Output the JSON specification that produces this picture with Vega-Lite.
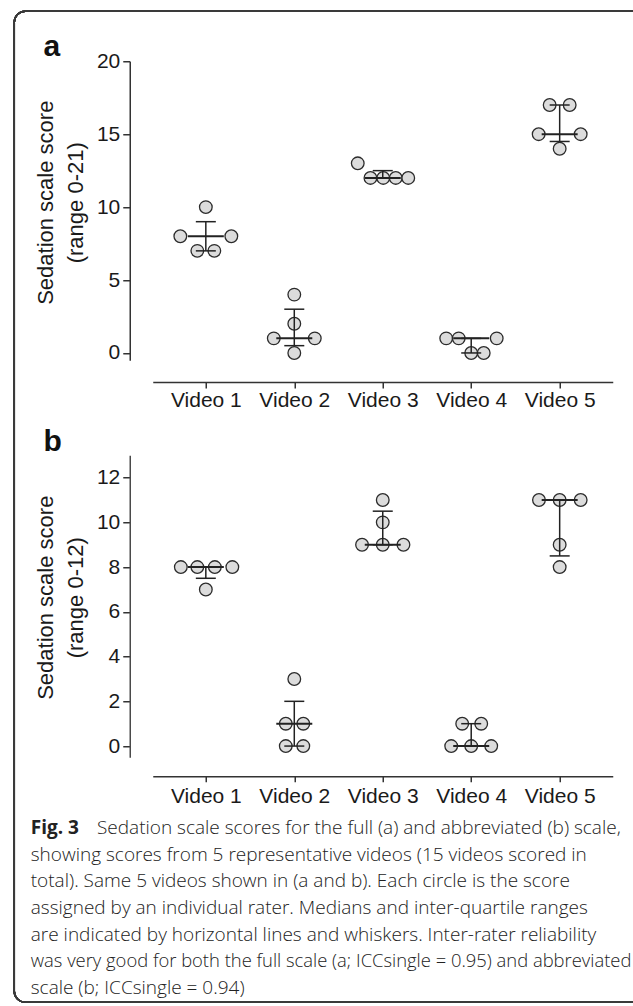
{
  "$schema": "https://vega.github.io/schema/vega-lite/v6.json",
  "padding": {"left": 12.75, "top": 10.25, "right": 0, "bottom": 0},
  "background": "white",
  "config": {
    "view": {"stroke": null},
    "font": "Liberation Sans",
    "axis": {
      "grid": false,
      "domainColor": "#333333",
      "domainWidth": 1.5,
      "tickColor": "#333333",
      "tickWidth": 1.5,
      "labelFont": "Liberation Sans",
      "labelFontSize": 21,
      "labelColor": "#1a1a1a",
      "titleFont": "Liberation Sans",
      "titleFontSize": 22,
      "titleFontWeight": "normal",
      "titleColor": "#1a1a1a"
    }
  },
  "datasets": {
    "a_points": [
      {"video": "Video 1", "score": 10, "spread": 0},
      {"video": "Video 1", "score": 8, "spread": -25.5},
      {"video": "Video 1", "score": 8, "spread": 25.5},
      {"video": "Video 1", "score": 7, "spread": -8.5},
      {"video": "Video 1", "score": 7, "spread": 8.5},
      {"video": "Video 2", "score": 4, "spread": 0},
      {"video": "Video 2", "score": 2, "spread": 0},
      {"video": "Video 2", "score": 1, "spread": -20.5},
      {"video": "Video 2", "score": 1, "spread": 20.5},
      {"video": "Video 2", "score": 0, "spread": 0},
      {"video": "Video 3", "score": 13, "spread": -25},
      {"video": "Video 3", "score": 12, "spread": -12.3},
      {"video": "Video 3", "score": 12, "spread": 0.5},
      {"video": "Video 3", "score": 12, "spread": 13},
      {"video": "Video 3", "score": 12, "spread": 25.5},
      {"video": "Video 4", "score": 1, "spread": -25},
      {"video": "Video 4", "score": 1, "spread": -12.5},
      {"video": "Video 4", "score": 1, "spread": 25.5},
      {"video": "Video 4", "score": 0, "spread": 0},
      {"video": "Video 4", "score": 0, "spread": 12.5},
      {"video": "Video 5", "score": 17, "spread": -10},
      {"video": "Video 5", "score": 17, "spread": 10},
      {"video": "Video 5", "score": 15, "spread": -21},
      {"video": "Video 5", "score": 15, "spread": 21},
      {"video": "Video 5", "score": 14, "spread": 0}
    ],
    "a_summary": [
      {"video": "Video 1", "med": 8, "q1": 7, "q3": 9},
      {"video": "Video 2", "med": 1, "q1": 0.5, "q3": 3},
      {"video": "Video 3", "med": 12, "q1": 12, "q3": 12.5},
      {"video": "Video 4", "med": 1, "q1": 0, "q3": 1},
      {"video": "Video 5", "med": 15, "q1": 14.5, "q3": 17}
    ],
    "b_points": [
      {"video": "Video 1", "score": 8, "spread": -25},
      {"video": "Video 1", "score": 8, "spread": -8.5},
      {"video": "Video 1", "score": 8, "spread": 9},
      {"video": "Video 1", "score": 8, "spread": 26.5},
      {"video": "Video 1", "score": 7, "spread": 0},
      {"video": "Video 2", "score": 3, "spread": 0},
      {"video": "Video 2", "score": 1, "spread": -8.5},
      {"video": "Video 2", "score": 1, "spread": 9},
      {"video": "Video 2", "score": 0, "spread": -8.5},
      {"video": "Video 2", "score": 0, "spread": 9},
      {"video": "Video 3", "score": 11, "spread": 0},
      {"video": "Video 3", "score": 10, "spread": 0},
      {"video": "Video 3", "score": 9, "spread": -20.7},
      {"video": "Video 3", "score": 9, "spread": 0},
      {"video": "Video 3", "score": 9, "spread": 20.7},
      {"video": "Video 4", "score": 1, "spread": -9},
      {"video": "Video 4", "score": 1, "spread": 10},
      {"video": "Video 4", "score": 0, "spread": -20},
      {"video": "Video 4", "score": 0, "spread": 0},
      {"video": "Video 4", "score": 0, "spread": 20},
      {"video": "Video 5", "score": 11, "spread": -20.7},
      {"video": "Video 5", "score": 11, "spread": 0},
      {"video": "Video 5", "score": 11, "spread": 21},
      {"video": "Video 5", "score": 9, "spread": 0},
      {"video": "Video 5", "score": 8, "spread": 0}
    ],
    "b_summary": [
      {"video": "Video 1", "med": 8, "q1": 7.5, "q3": 8},
      {"video": "Video 2", "med": 1, "q1": 0, "q3": 2},
      {"video": "Video 3", "med": 9, "q1": 9, "q3": 10.5},
      {"video": "Video 4", "med": 0, "q1": 0, "q3": 1},
      {"video": "Video 5", "med": 11, "q1": 8.5, "q3": 11}
    ],
    "caption": [
      {"line": 1, "part": "lead", "text": "Fig. 3"},
      {"line": 1, "part": "rest", "text": "Sedation scale scores for the full (a) and abbreviated (b) scale,"},
      {"line": 2, "part": "body", "text": "showing scores from 5 representative videos (15 videos scored in"},
      {"line": 3, "part": "body", "text": "total). Same 5 videos shown in (a and b). Each circle is the score"},
      {"line": 4, "part": "body", "text": "assigned by an individual rater. Medians and inter-quartile ranges"},
      {"line": 5, "part": "body", "text": "are indicated by horizontal lines and whiskers. Inter-rater reliability"},
      {"line": 6, "part": "long", "text": "was very good for both the full scale (a; ICCsingle = 0.95) and abbreviated"},
      {"line": 7, "part": "body", "text": "scale (b; ICCsingle = 0.94)"}
    ]
  },
  "concat": [
    {
      "width": 460,
      "height": 299,
      "title": {"text": "a", "anchor": "start", "frame": "bounds", "font": "Liberation Sans", "fontSize": 30, "fontWeight": "bold", "color": "#111111", "dx": 9, "offset": -35.5, "baseline": "alphabetic"},
      "layer": [
        {
          "data": {"name": "a_points"},
          "mark": {"type": "circle", "fill": "#dcdcdc", "stroke": "#2b2b2b", "strokeWidth": 1.3, "size": 160, "opacity": 1},
          "encoding": {
            "x": {"field": "video", "type": "nominal", "sort": null, "scale": {"type": "point", "padding": 0.6},
                  "axis": {"title": null, "labelAngle": 0, "offset": 21.7, "tickSize": 6, "labelPadding": 1.5}},
            "xOffset": {"field": "spread", "type": "quantitative", "scale": {"domain": [-30, 30], "range": [-30, 30]}},
            "y": {"field": "score", "type": "quantitative", "scale": {"domain": [-0.5, 20], "nice": false, "zero": false},
                  "axis": {"values": [0, 5, 10, 15, 20], "offset": 23, "tickSize": 7, "labelPadding": 3,
                           "title": ["Sedation scale score", "(range 0-21)"], "titleLineHeight": 30, "titlePadding": 9, "titleY": 141}}
          }
        },
        {
          "data": {"name": "a_summary"},
          "mark": {"type": "rule", "stroke": "#222222", "strokeWidth": 1.5},
          "encoding": {
            "x": {"field": "video", "type": "nominal", "sort": null},
            "y": {"field": "q1", "type": "quantitative"},
            "y2": {"field": "q3"}
          }
        },
        {
          "data": {"name": "a_summary"},
          "mark": {"type": "tick", "color": "#222222", "size": 20, "thickness": 1.5, "opacity": 1},
          "encoding": {
            "x": {"field": "video", "type": "nominal", "sort": null},
            "y": {"field": "q1", "type": "quantitative"}
          }
        },
        {
          "data": {"name": "a_summary"},
          "mark": {"type": "tick", "color": "#222222", "size": 20, "thickness": 1.5, "opacity": 1},
          "encoding": {
            "x": {"field": "video", "type": "nominal", "sort": null},
            "y": {"field": "q3", "type": "quantitative"}
          }
        },
        {
          "data": {"name": "a_summary"},
          "mark": {"type": "tick", "color": "#222222", "size": 36, "thickness": 2, "opacity": 1},
          "encoding": {
            "x": {"field": "video", "type": "nominal", "sort": null},
            "y": {"field": "med", "type": "quantitative"}
          }
        }
      ]
    },
    {
      "width": 460,
      "height": 302,
      "title": {"text": "b", "anchor": "start", "frame": "bounds", "font": "Liberation Sans", "fontSize": 30, "fontWeight": "bold", "color": "#111111", "dx": 9, "offset": -26, "baseline": "alphabetic"},
      "layer": [
        {
          "data": {"name": "b_points"},
          "mark": {"type": "circle", "fill": "#dcdcdc", "stroke": "#2b2b2b", "strokeWidth": 1.3, "size": 160, "opacity": 1},
          "encoding": {
            "x": {"field": "video", "type": "nominal", "sort": null, "scale": {"type": "point", "padding": 0.6},
                  "axis": {"title": null, "labelAngle": 0, "offset": 19, "tickSize": 5.5, "labelPadding": 3.5}},
            "xOffset": {"field": "spread", "type": "quantitative", "scale": {"domain": [-30, 30], "range": [-30, 30]}},
            "y": {"field": "score", "type": "quantitative", "scale": {"domain": [-0.5, 13], "nice": false, "zero": false},
                  "axis": {"values": [0, 2, 4, 6, 8, 10, 12], "offset": 23, "tickSize": 7, "labelPadding": 3, "domainColor": "#4a4a4a",
                           "title": ["Sedation scale score", "(range 0-12)"], "titleLineHeight": 30, "titlePadding": 9, "titleY": 142}}
          }
        },
        {
          "data": {"name": "b_summary"},
          "mark": {"type": "rule", "stroke": "#222222", "strokeWidth": 1.5},
          "encoding": {
            "x": {"field": "video", "type": "nominal", "sort": null},
            "y": {"field": "q1", "type": "quantitative"},
            "y2": {"field": "q3"}
          }
        },
        {
          "data": {"name": "b_summary"},
          "mark": {"type": "tick", "color": "#222222", "size": 20, "thickness": 1.5, "opacity": 1},
          "encoding": {
            "x": {"field": "video", "type": "nominal", "sort": null},
            "y": {"field": "q1", "type": "quantitative"}
          }
        },
        {
          "data": {"name": "b_summary"},
          "mark": {"type": "tick", "color": "#222222", "size": 20, "thickness": 1.5, "opacity": 1},
          "encoding": {
            "x": {"field": "video", "type": "nominal", "sort": null},
            "y": {"field": "q3", "type": "quantitative"}
          }
        },
        {
          "data": {"name": "b_summary"},
          "mark": {"type": "tick", "color": "#222222", "size": 36, "thickness": 2, "opacity": 1},
          "encoding": {
            "x": {"field": "video", "type": "nominal", "sort": null},
            "y": {"field": "med", "type": "quantitative"}
          }
        }
      ]
    },
    {
      "width": 468,
      "height": 135.6,
      "data": {"name": "caption"},
      "layer": [
        {
          "mark": {"type": "rect", "filled": false, "color": "#3a3a3a", "strokeWidth": 1.5, "cornerRadius": 11, "clip": false},
          "encoding": {
            "x": {"datum": -0.2959, "type": "quantitative", "scale": {"domain": [0, 1], "nice": false, "zero": false}, "axis": null},
            "x2": {"datum": 1.08},
            "y": {"datum": -29.715, "type": "quantitative", "scale": {"domain": [1.902, 7], "reverse": true, "nice": false, "zero": false}, "axis": null},
            "y2": {"datum": 7.541}
          }
        },
        {
          "transform": [{"filter": "datum.part === 'lead'"}],
          "mark": {"type": "text", "align": "left", "baseline": "middle", "dx": -122, "font": "Open Sans", "fontSize": 19, "fontWeight": "bold", "color": "#222222"},
          "encoding": {
            "x": {"datum": 0, "type": "quantitative"},
            "y": {"field": "line", "type": "quantitative"},
            "text": {"field": "text"}
          }
        },
        {
          "transform": [{"filter": "datum.part === 'rest'"}],
          "mark": {"type": "text", "align": "right", "baseline": "middle", "font": "Open Sans", "fontSize": 19, "fontWeight": 300, "color": "#222222"},
          "encoding": {
            "x": {"datum": 1, "type": "quantitative"},
            "y": {"field": "line", "type": "quantitative"},
            "text": {"field": "text"}
          }
        },
        {
          "transform": [{"filter": "datum.part === 'body'"}],
          "mark": {"type": "text", "align": "left", "baseline": "middle", "dx": -122, "font": "Open Sans", "fontSize": 19, "fontWeight": 300, "color": "#222222"},
          "encoding": {
            "x": {"datum": 0, "type": "quantitative"},
            "y": {"field": "line", "type": "quantitative"},
            "text": {"field": "text"}
          }
        },
        {
          "transform": [{"filter": "datum.part === 'long'"}],
          "mark": {"type": "text", "align": "left", "baseline": "middle", "dx": -122, "font": "Open Sans", "fontSize": 18.4, "fontWeight": 300, "color": "#222222"},
          "encoding": {
            "x": {"datum": 0, "type": "quantitative"},
            "y": {"field": "line", "type": "quantitative"},
            "text": {"field": "text"}
          }
        }
      ]
    }
  ],
  "columns": 1,
  "bounds": "flush",
  "spacing": 95
}
